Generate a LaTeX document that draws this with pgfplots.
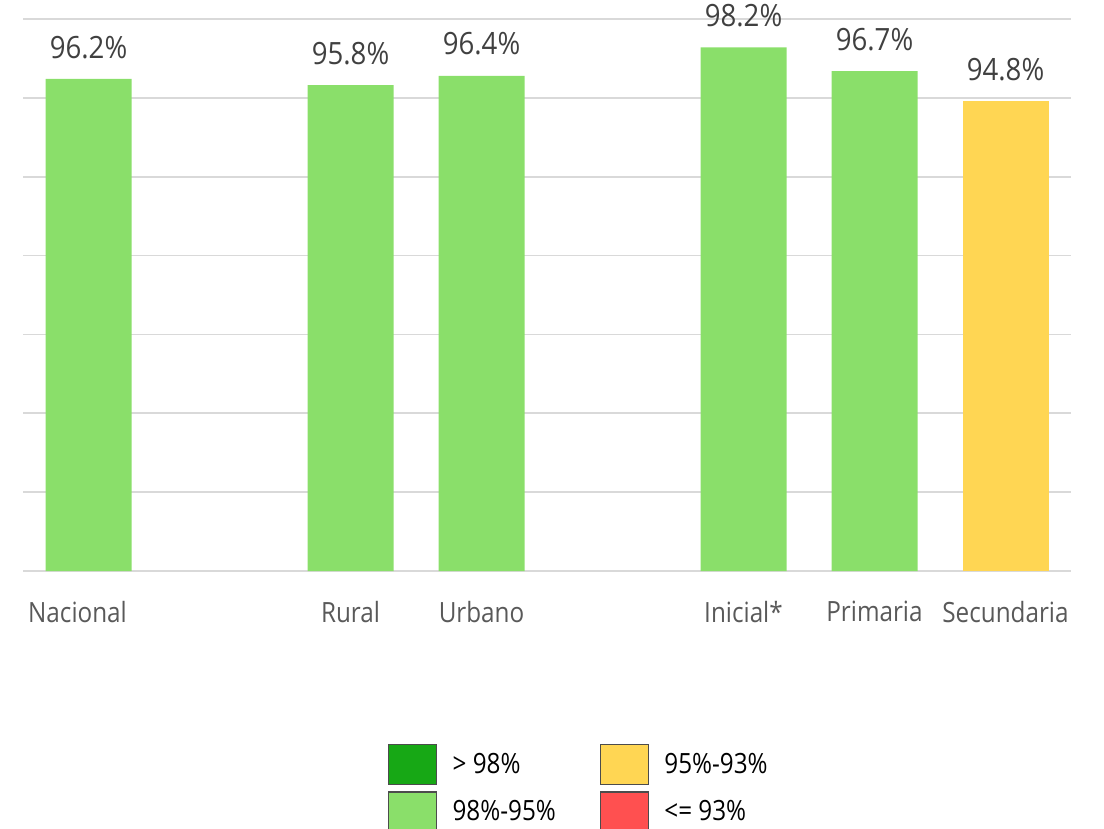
\documentclass[border=0pt]{standalone}
\usepackage{pgfplots}
\pgfplotsset{compat=1.18}
\usepackage{fontspec}
\setmainfont{Open Sans}[FakeStretch=0.87]
\newfontfamily\valfont{Open Sans}[FakeStretch=0.9]

\definecolor{barGreen}{HTML}{8ADF6A}
\definecolor{barYellow}{HTML}{FFD653}
\definecolor{darkGreen}{HTML}{17A815}
\definecolor{lightRed}{HTML}{FF5050}
\definecolor{gridGray}{HTML}{D9D9D9}
\definecolor{valText}{HTML}{404040}
\definecolor{catText}{HTML}{595959}

\pgfplotsset{
  mybox/.style={legend image code/.code={\draw[##1] (0bp,-10bp) rectangle (24bp,10bp);
    \path[draw=none, fill=none] (0bp,0bp) -- (30bp,0bp);}},
  vallabels/.style={
    nodes near coords={\pgfmathprintnumber[fixed,fixed zerofill,precision=1,assume math mode=true]{\pgfplotspointmeta}\%},
    nodes near coords style={font=\valfont\fontsize{15.4}{18}\selectfont, text=valText,
      inner sep=0pt, anchor=south, yshift=10bp}},
}

\begin{document}
\begin{tikzpicture}
\path[use as bounding box] (0,0) rectangle (552bp,414.5bp);
\begin{axis}[
  at={(11.5bp,129bp)}, anchor=south west,
  scale only axis, width=524bp, height=276bp,
  xmin=-0.5, xmax=7.5, ymin=65, ymax=100,
  ytick={65,70,...,100}, yticklabels={},
  ymajorgrids, grid style={gridGray, line width=0.8bp},
  major tick length=0pt,
  axis line style={draw=none},
  xtick={0,2,3,5,6,7},
  xticklabels={Nacional\kern11bp,Rural,Urbano,Inicial*,Primaria,Secundaria},
  xticklabel style={font=\fontsize{14}{16}\selectfont, text=catText, inner sep=0pt, yshift=-15bp},
  clip=false,
  legend columns=2,
  legend cell align=left,
  legend style={at={(0.3479,-0.313)}, anchor=north west, draw=none, fill=none,
    inner sep=0pt, font=\fontsize{14}{16}\selectfont, row sep=3bp,
    /tikz/every even column/.append style={column sep=20bp}},
]
\addplot[ybar, bar width=43bp, bar shift=0pt, fill=barGreen, draw=none, forget plot, vallabels]
  coordinates {(0,96.2) (2,95.8) (3,96.4) (5,98.2) (6,96.7)};
\addplot[ybar, bar width=43bp, bar shift=0pt, fill=barYellow, draw=none, forget plot, vallabels]
  coordinates {(7,94.8)};

\addlegendimage{mybox, fill=darkGreen, draw=black!70, line width=0.6bp}
\addlegendentry{> 98\%}
\addlegendimage{mybox, fill=barYellow, draw=black!70, line width=0.6bp}
\addlegendentry{95\%-93\%}
\addlegendimage{mybox, fill=barGreen, draw=black!70, line width=0.6bp}
\addlegendentry{98\%-95\%}
\addlegendimage{mybox, fill=lightRed, draw=black!70, line width=0.6bp}
\addlegendentry{<= 93\%}
\end{axis}
\end{tikzpicture}
\end{document}
